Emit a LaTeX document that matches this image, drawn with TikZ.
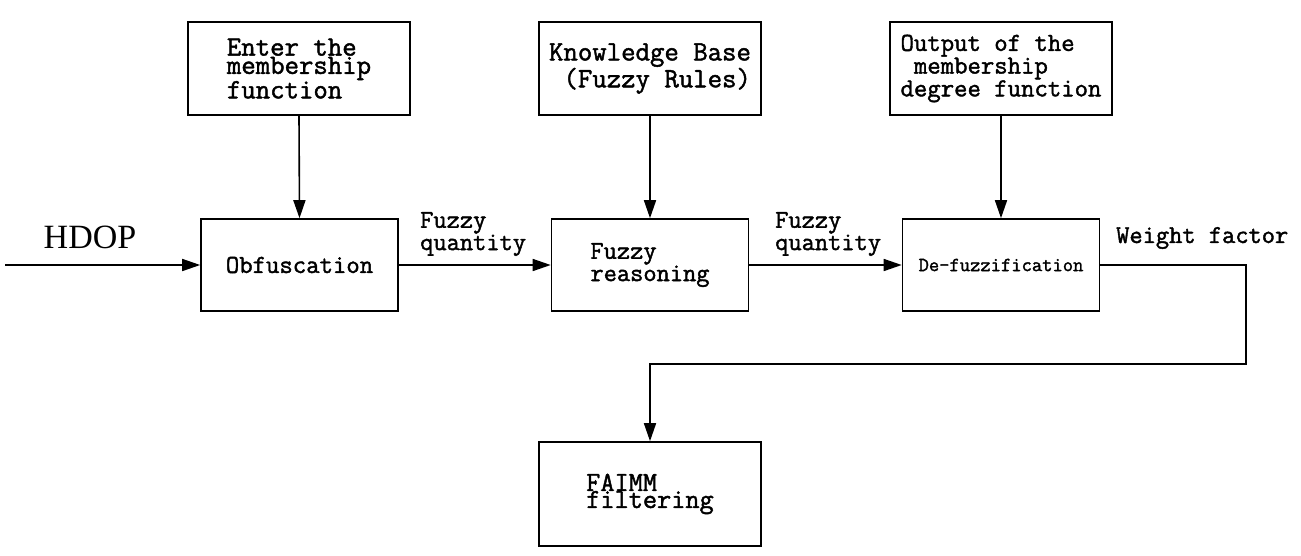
\documentclass[tikz,border=0pt]{standalone}
\usepackage{fontspec}
\setmainfont{Liberation Serif}
\newfontfamily\mono[FakeBold=1.6]{Latin Modern Mono}
\usetikzlibrary{arrows.meta}
\tikzset{
  blk/.style={draw, line width=1.6pt, rectangle, inner sep=0pt, align=left},
  topblk/.style={blk, minimum width=222pt, minimum height=93pt},
  midblk/.style={blk, minimum width=197pt, minimum height=92pt},
  arr/.style={line width=1.6pt, -{Triangle[length=18pt,width=12pt]}},
  ln/.style={line width=1.6pt},
  lbl/.style={inner sep=0pt, align=left},
}
\begin{document}
\begin{tikzpicture}[x=1pt,y=-1pt]
\useasboundingbox (0,0) rectangle (1301,555);
% top boxes
\node[topblk, font={\mono\fontsize{28}{17}\selectfont}] (enter) at (299,68.5) {Enter the\\membership\\function};
\node[topblk, font={\mono\fontsize{28}{16}\selectfont}] (kb) at (650,68.5) {Knowledge Base\\~(Fuzzy Rules)};
\node[topblk, font={\mono\fontsize{26}{17}\selectfont}] (outp) at (1001,68.5) {Output of the\\~membership\\degree function};
% middle boxes
\node[midblk, font={\mono\fontsize{26}{18}\selectfont}] (obf) at (299.5,265) {Obfuscation};
\node[midblk, font={\mono\fontsize{25.7}{19}\selectfont}] (fr) at (650,265) {Fuzzy\\reasoning};
\node[midblk, font={\mono\fontsize{20}{18}\selectfont}] (df) at (1001,265) {De-fuzzification};
% bottom box
\node[blk, minimum width=222pt, minimum height=104pt, font={\mono\fontsize{27.5}{17}\selectfont}] (faimm) at (650,494) {FAIMM\\filtering\hspace{14pt}};
% labels
\node[lbl, font={\fontsize{34}{34}\selectfont}] (hdop) at (90,237) {HDOP};
\node[lbl, anchor=west, font={\mono\fontsize{25.7}{16}\selectfont}] (fq1) at (420,234) {Fuzzy\\quantity};
\node[lbl, anchor=west, font={\mono\fontsize{25.7}{16}\selectfont}] (fq2) at (775,234) {Fuzzy\\quantity};
\node[lbl, anchor=west, font={\mono\fontsize{25.7}{18}\selectfont}] (wf) at (1116,238) {Weight factor};
% connectors
\coordinate (in) at (5,265);
\coordinate (turn) at (1246,364);
\draw[arr] (in) -- (obf.west);
\draw[arr] (enter.south) -- (obf.north);
\draw[arr] (kb.south) -- (fr.north);
\draw[arr] (outp.south) -- (df.north);
\draw[arr] (obf.east) -- (fr.west);
\draw[arr] (fr.east) -- (df.west);
\draw[arr] (df.east) -| (turn) -| (faimm.north);
\end{tikzpicture}
\end{document}
